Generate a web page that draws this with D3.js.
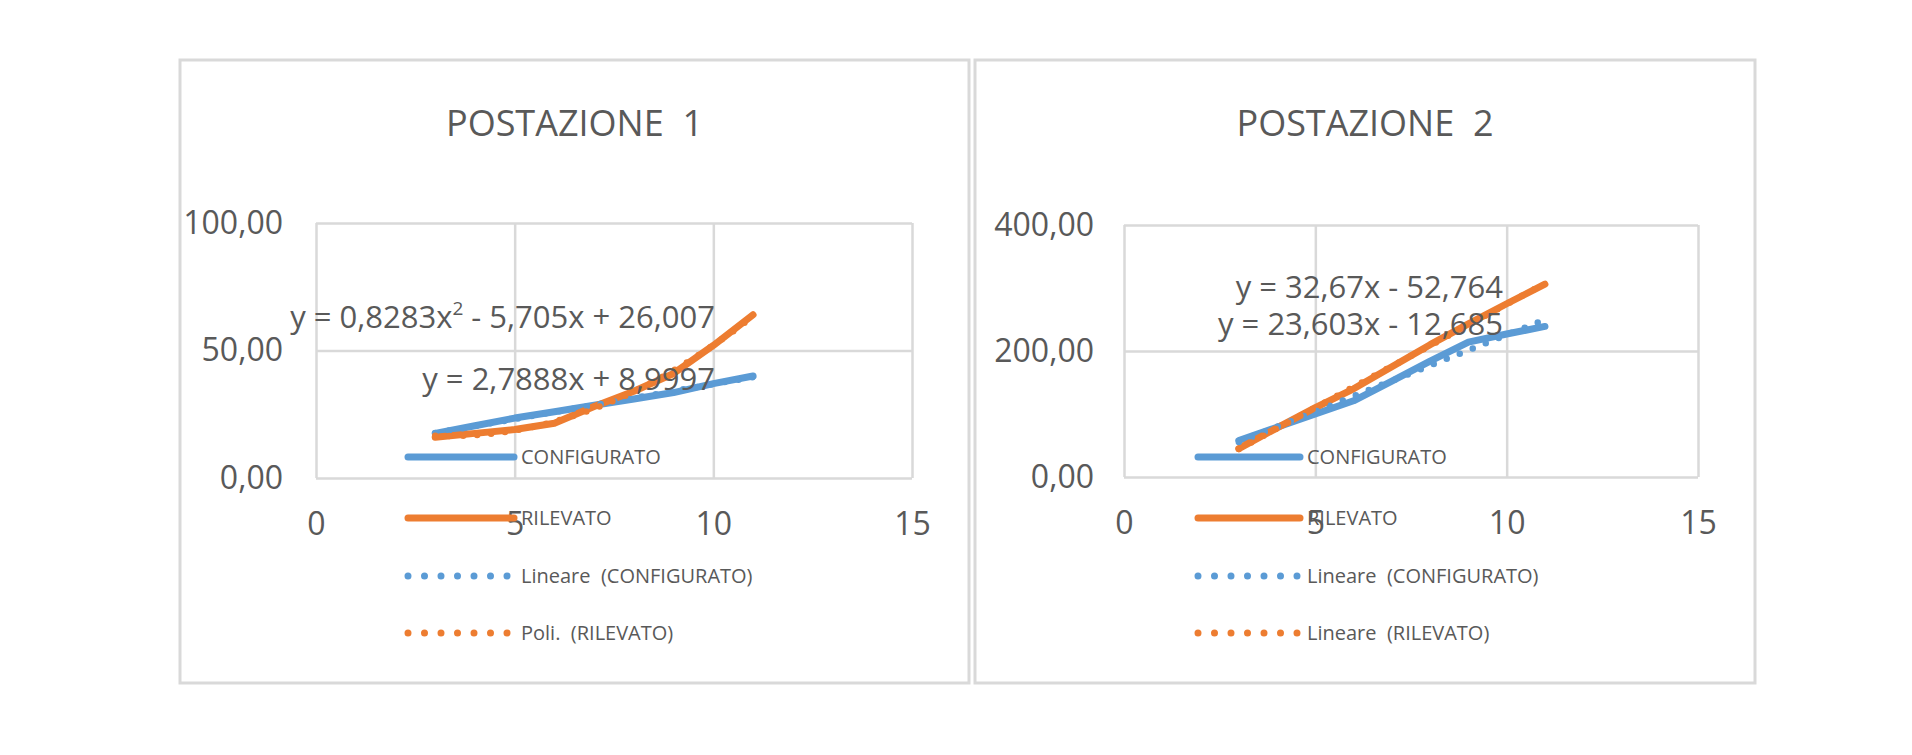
<!DOCTYPE html>
<html>
<head>
<meta charset="utf-8">
<script src="https://cdn.jsdelivr.net/npm/d3@7"></script>
<style>
  body { margin: 0; background: #fff; }
  svg { display: block; font-family: "Open Sans", sans-serif; }
  svg text { white-space: pre; }
  .grid line { stroke: #d9d9d9; stroke-width: 2.5; }
  .grid text { fill: #595959; }
</style>
</head>
<body>
<div id="chart"></div>
<script>
// values
const xValues = [3, 4, 5, 6, 7, 8, 9, 10, 11]
const xTicks = [0, 5, 10, 15]

const p1Configurato = [17.5, 20.5, 23.5, 26, 28.5, 31, 33.5, 37, 40]
const p1Rilevato = [16, 17.5, 19, 21.5, 28, 34, 41, 52, 64]
const p1YTicks = [0, 50, 100]

const p2Configurato = [58, 79, 100, 121, 152, 184, 214, 227, 239]
const p2Rilevato = [45, 78, 110, 140, 175, 210, 243, 275, 306]
const p2YTicks = [0, 200, 400]

const titles = ['POSTAZIONE  1', 'POSTAZIONE  2']
const seriesNames = ['CONFIGURATO', 'RILEVATO']
const p1TrendNames = ['Lineare  (CONFIGURATO)', 'Poli.  (RILEVATO)']
const p2TrendNames = ['Lineare  (CONFIGURATO)', 'Lineare  (RILEVATO)']
const p1Equations = [['y = 0,8283x', '2', ' - 5,705x + 26,007'], ['y = 2,7888x + 8,9997']]
const p2Equations = [['y = 32,67x - 52,764'], ['y = 23,603x - 12,685']]

const blue = '#5b9bd5', orange = '#ed7d31', textColor = '#595959'

const W = 1912, H = 755
const svg = d3.select('#chart').append('svg').attr('width', W).attr('height', H)

const it = d3.formatLocale({decimal: ',', thousands: '.', grouping: [3], currency: ['', '']})
const fmt2 = it.format('.2f')

// least squares polynomial fit (Excel trendline)
function polyFit(xs, ys, deg) {
  const n = deg + 1
  const A = d3.range(n).map(i => d3.range(n + 1).map(j => 0))
  xs.forEach((x, k) => {
    for (let i = 0; i < n; i++) {
      for (let j = 0; j < n; j++) A[i][j] += Math.pow(x, i + j)
      A[i][n] += ys[k] * Math.pow(x, i)
    }
  })
  for (let i = 0; i < n; i++) {
    for (let r = i + 1; r < n; r++) {
      const f = A[r][i] / A[i][i]
      for (let c = i; c <= n; c++) A[r][c] -= f * A[i][c]
    }
  }
  const coef = new Array(n).fill(0)
  for (let i = n - 1; i >= 0; i--) {
    let s = A[i][n]
    for (let j = i + 1; j < n; j++) s -= A[i][j] * coef[j]
    coef[i] = s / A[i][i]
  }
  return x => coef.reduce((acc, c, i) => acc + c * Math.pow(x, i), 0)
}

function panel(cfg) {
  const g = svg.append('g')

  g.append('rect')
    .attr('x', cfg.box[0]).attr('y', cfg.box[1])
    .attr('width', cfg.box[2] - cfg.box[0]).attr('height', cfg.box[3] - cfg.box[1])
    .attr('fill', '#fff').attr('stroke', '#d9d9d9').attr('stroke-width', 3)

  g.append('text')
    .attr('x', (cfg.box[0] + cfg.box[2]) / 2).attr('y', 136)
    .attr('text-anchor', 'middle').attr('font-size', 36).attr('fill', textColor)
    .text(cfg.title)

  const x = d3.scaleLinear().domain([0, 15]).range(cfg.xRange)
  const y = d3.scaleLinear().domain([0, cfg.yTicks[cfg.yTicks.length - 1]]).range(cfg.yRange)
  const pw = cfg.xRange[1] - cfg.xRange[0]
  const ph = cfg.yRange[0] - cfg.yRange[1]

  g.append('g').attr('class', 'grid')
    .attr('transform', `translate(0,${cfg.yRange[0]})`)
    .call(d3.axisBottom(x).tickValues(xTicks).tickSize(-ph).tickPadding(34).tickFormat(d3.format('d')))
    .call(a => a.select('.domain').remove())
    .call(a => a.selectAll('text').attr('font-size', 32).attr('font-family', '"Open Sans", sans-serif'))

  g.append('g').attr('class', 'grid')
    .attr('transform', `translate(${cfg.xRange[0]},0)`)
    .call(d3.axisLeft(y).tickValues(cfg.yTicks).tickSize(-pw).tickPadding(cfg.yPad).tickFormat(fmt2))
    .call(a => a.select('.domain').remove())
    .call(a => a.selectAll('text').attr('font-size', 32).attr('font-family', '"Open Sans", sans-serif'))

  const line = d3.line().x(d => x(d[0])).y(d => y(d[1]))
  const colors = [blue, orange]

  cfg.series.forEach((s, i) => {
    g.append('path')
      .datum(xValues.map((v, k) => [v, s[k]]))
      .attr('d', line)
      .attr('fill', 'none').attr('stroke', colors[i]).attr('stroke-width', 7)
      .attr('stroke-linejoin', 'round').attr('stroke-linecap', 'round')
  })

  cfg.series.forEach((s, i) => {
    const f = polyFit(xValues, s, cfg.trendDeg[i])
    const xs = d3.range(xValues[0], xValues[xValues.length - 1] + 0.001, 0.05)
    g.append('path')
      .datum(xs.map(v => [v, f(v)]))
      .attr('d', line)
      .attr('fill', 'none').attr('stroke', colors[i]).attr('stroke-width', 6.5)
      .attr('stroke-linecap', 'round').attr('stroke-dasharray', '0 14')
  })

  // equations
  cfg.equations.forEach((eq, i) => {
    const t = g.append('text')
      .attr('x', cfg.eqX).attr('y', cfg.eqY[i])
      .attr('text-anchor', 'end').attr('font-size', 31).attr('fill', textColor)
    t.append('tspan').text(eq[0])
    if (eq.length > 1) {
      t.append('tspan').attr('font-size', 19).attr('dy', -13).text(eq[1])
      t.append('tspan').attr('dy', 13).text(eq[2])
    }
  })

  // legend
  const rows = [457, 518, 576, 633]
  const names = seriesNames.concat(cfg.trendNames)
  names.forEach((name, i) => {
    const c = colors[i % 2]
    const ln = g.append('line')
      .attr('x1', cfg.legX[0]).attr('x2', cfg.legX[1])
      .attr('y1', rows[i]).attr('y2', rows[i])
      .attr('stroke', c).attr('stroke-linecap', 'round')
    if (i < 2) ln.attr('stroke-width', 7)
    else ln.attr('stroke-width', 7).attr('stroke-dasharray', '0 16.5')
    g.append('text')
      .attr('x', cfg.legX[1] + 7).attr('y', rows[i] + 7)
      .attr('font-size', 20).attr('fill', textColor)
      .text(name)
  })
}

panel({
  box: [180, 60, 969, 683], title: titles[0],
  xRange: [316, 912], yRange: [478, 223], yTicks: p1YTicks, yPad: 33,
  series: [p1Configurato, p1Rilevato], trendDeg: [1, 2],
  equations: p1Equations, eqX: 715, eqY: [328, 390],
  trendNames: p1TrendNames, legX: [408, 514]
})

panel({
  box: [975, 60, 1755, 683], title: titles[1],
  xRange: [1124, 1698], yRange: [477, 225], yTicks: p2YTicks, yPad: 30,
  series: [p2Configurato, p2Rilevato], trendDeg: [1, 1],
  equations: p2Equations, eqX: 1503, eqY: [298, 335],
  trendNames: p2TrendNames, legX: [1198, 1300]
})
</script>
</body>
</html>
